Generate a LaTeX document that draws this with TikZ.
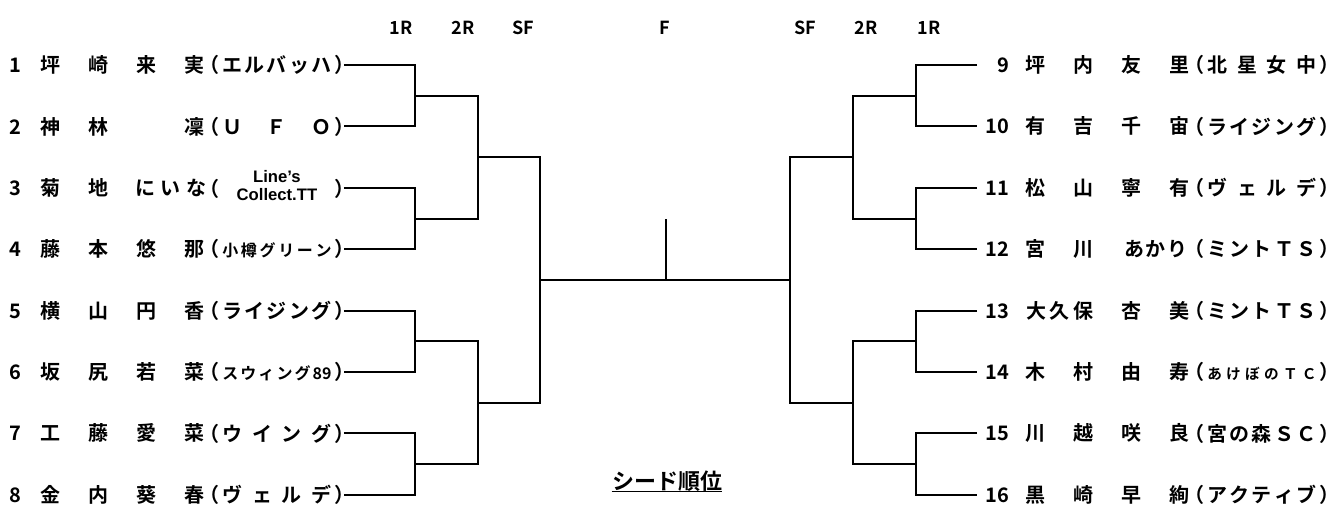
\documentclass[tikz,border=0pt]{standalone}
\usepackage{fontspec}
\setmainfont{Noto Sans CJK JP}[BoldFont=* Bold]
\newfontfamily\latin{Liberation Sans}

\newcommand{\nmslot}[1]{\makebox[36pt][c]{#1}}
\newcommand{\lnum}[1]{\makebox[17pt][c]{#1}}
\newcommand{\rnum}[1]{\makebox[24pt][r]{#1}\hspace{1.9pt}}
\newcommand{\clubtxt}[1]{\makebox[10pt][r]{（}\hspace{2pt}\makebox[82pt][s]{#1}\hspace{2pt}\makebox[7pt][l]{）}}
\newcommand{\smallclub}{\fontsize{12}{13}\selectfont}

\begin{document}
\begin{tikzpicture}[x=0.75pt,y=-0.75pt]
        \tikzstyle{player}=[anchor=west,inner sep=0pt,font=\fontsize{15}{17}\selectfont\bfseries]
        \tikzstyle{club}=[anchor=west,inner sep=0pt,font=\fontsize{15}{17}\selectfont\bfseries]
        \tikzstyle{roundlabel}=[inner sep=0pt,font=\fontsize{13.5}{15}\selectfont\bfseries]
        \tikzstyle{edge}=[draw=black,line width=1.5pt]

        \fill[white] (0,0) rectangle (1337,504);
        \useasboundingbox (0,0) rectangle (1337,504);

        % round headings
        \node [roundlabel] (h1l) at (401,28) {1R};
        \node [roundlabel] (h2l) at (463,28) {2R};
        \node [roundlabel] (hsl) at (523,28) {SF};
        \node [roundlabel] (hf)  at (665,28) {F};
        \node [roundlabel] (hsr) at (805,28) {SF};
        \node [roundlabel] (h2r) at (866,28) {2R};
        \node [roundlabel] (h1r) at (929,28) {1R};

        % left block
        \node [player] (n1) at (4,65)    {\lnum{1}\nmslot{坪}\nmslot{崎}\nmslot{来}\nmslot{実}};
        \node [club]   (t1) at (206,65)  {\clubtxt{エ\hfil ル\hfil バ\hfil ッ\hfil ハ}};
        \node [player] (n2) at (4,126.4) {\lnum{2}\nmslot{神}\nmslot{林}\nmslot{}\nmslot{凜}};
        \node [club]   (t2) at (206,126.4) {\clubtxt{Ｕ\hfil Ｆ\hfil Ｏ}};
        \node [player] (n3) at (4,187.8) {\lnum{3}\nmslot{菊}\nmslot{地}\makebox[72pt]{\makebox[53pt][s]{に\hfil い\hfil な}}};
        \node [club]   (t3) at (206,187.8) {\clubtxt{\hfil\raisebox{3.8pt}{\latin\fontsize{12.5}{13.5}\selectfont\begin{tabular}{@{}c@{}}Line’s\\Collect.TT\end{tabular}}\hfil}};
        \node [player] (n4) at (4,249.2) {\lnum{4}\nmslot{藤}\nmslot{本}\nmslot{悠}\nmslot{那}};
        \node [club]   (t4) at (206,249.2) {\clubtxt{\smallclub 小\hfil 樽\hfil グ\hfil リ\hfil ー\hfil ン}};
        \node [player] (n5) at (4,310.6) {\lnum{5}\nmslot{横}\nmslot{山}\nmslot{円}\nmslot{香}};
        \node [club]   (t5) at (206,310.6) {\clubtxt{ラ\hfil イ\hfil ジ\hfil ン\hfil グ}};
        \node [player] (n6) at (4,372)   {\lnum{6}\nmslot{坂}\nmslot{尻}\nmslot{若}\nmslot{菜}};
        \node [club]   (t6) at (206,372) {\clubtxt{\smallclub ス\hfil ウ\hfil ィ\hfil ン\hfil グ\hfil 89}};
        \node [player] (n7) at (4,433.4) {\lnum{7}\nmslot{工}\nmslot{藤}\nmslot{愛}\nmslot{菜}};
        \node [club]   (t7) at (206,433.4) {\clubtxt{ウ\hfil イ\hfil ン\hfil グ}};
        \node [player] (n8) at (4,494.8) {\lnum{8}\nmslot{金}\nmslot{内}\nmslot{葵}\nmslot{春}};
        \node [club]   (t8) at (206,494.8) {\clubtxt{ヴ\hfil ェ\hfil ル\hfil デ}};

        % right block
        \node [player] (n9)  at (977,65)    {\rnum{9}\nmslot{坪}\nmslot{内}\nmslot{友}\nmslot{里}};
        \node [club]   (t9)  at (1191,65)   {\clubtxt{北\hfil 星\hfil 女\hfil 中}};
        \node [player] (n10) at (977,126.4) {\rnum{10}\nmslot{有}\nmslot{吉}\nmslot{千}\nmslot{宙}};
        \node [club]   (t10) at (1191,126.4) {\clubtxt{ラ\hfil イ\hfil ジ\hfil ン\hfil グ}};
        \node [player] (n11) at (977,187.8) {\rnum{11}\nmslot{松}\nmslot{山}\nmslot{寧}\nmslot{有}};
        \node [club]   (t11) at (1191,187.8) {\clubtxt{ヴ\hfil ェ\hfil ル\hfil デ}};
        \node [player] (n12) at (977,249.2) {\rnum{12}\nmslot{宮}\nmslot{川}\makebox[72pt]{\makebox[47pt][s]{あ\hfil か\hfil り}}};
        \node [club]   (t12) at (1191,249.2) {\clubtxt{ミ\hfil ン\hfil ト\hfil Ｔ\hfil Ｓ}};
        \node [player] (n13) at (977,310.6) {\rnum{13}\makebox[72pt]{\makebox[50pt][s]{大\hfil 久\hfil 保}}\nmslot{杏}\nmslot{美}};
        \node [club]   (t13) at (1191,310.6) {\clubtxt{ミ\hfil ン\hfil ト\hfil Ｔ\hfil Ｓ}};
        \node [player] (n14) at (977,372)   {\rnum{14}\nmslot{木}\nmslot{村}\nmslot{由}\nmslot{寿}};
        \node [club]   (t14) at (1191,372)  {\clubtxt{\fontsize{11}{12}\selectfont あ\hfil け\hfil ぼ\hfil の\hfil Ｔ\hfil Ｃ}};
        \node [player] (n15) at (977,433.4) {\rnum{15}\nmslot{川}\nmslot{越}\nmslot{咲}\nmslot{良}};
        \node [club]   (t15) at (1191,433.4) {\clubtxt{宮\hfil の\hfil 森\hfil Ｓ\hfil Ｃ}};
        \node [player] (n16) at (977,494.8) {\rnum{16}\nmslot{黒}\nmslot{崎}\nmslot{早}\nmslot{絢}};
        \node [club]   (t16) at (1191,494.8) {\clubtxt{ア\hfil ク\hfil テ\hfil ィ\hfil ブ}};

        % bracket joints
        \coordinate (a1) at (415,95.7);
        \coordinate (a2) at (415,218.5);
        \coordinate (a3) at (415,341.3);
        \coordinate (a4) at (415,464.1);
        \coordinate (b1) at (478,157.1);
        \coordinate (b2) at (478,402.7);
        \coordinate (c1) at (540,279.9);
        \coordinate (a5) at (915.5,95.7);
        \coordinate (a6) at (915.5,218.5);
        \coordinate (a7) at (915.5,341.3);
        \coordinate (a8) at (915.5,464.1);
        \coordinate (b3) at (852.5,157.1);
        \coordinate (b4) at (852.5,402.7);
        \coordinate (c2) at (790,279.9);
        \coordinate (top) at (665.5,219);

        \draw[edge] (t1.east) -| (a1) |- (t2.east);
        \draw[edge] (t3.east) -| (a2) |- (t4.east);
        \draw[edge] (t5.east) -| (a3) |- (t6.east);
        \draw[edge] (t7.east) -| (a4) |- (t8.east);
        \draw[edge] (a1) -| (b1) |- (a2);
        \draw[edge] (a3) -| (b2) |- (a4);
        \draw[edge] (b1) -| (c1) |- (b2);

        \draw[edge] (n9.west) -| (a5) |- (n10.west);
        \draw[edge] (n11.west) -| (a6) |- (n12.west);
        \draw[edge] (n13.west) -| (a7) |- (n14.west);
        \draw[edge] (n15.west) -| (a8) |- (n16.west);
        \draw[edge] (a5) -| (b3) |- (a6);
        \draw[edge] (a7) -| (b4) |- (a8);
        \draw[edge] (b3) -| (c2) |- (b4);

        \draw[edge] (c1) -- (c2);
        \draw[edge] (top) -- (top |- c1);

        % seed caption
        \node [inner sep=0pt,font=\fontsize{16.5}{18}\selectfont\bfseries] (seed) at (667,481) {シード順位};
        \draw[line width=1.3pt] (seed.south west) -- (seed.south east);
\end{tikzpicture}
\end{document}
